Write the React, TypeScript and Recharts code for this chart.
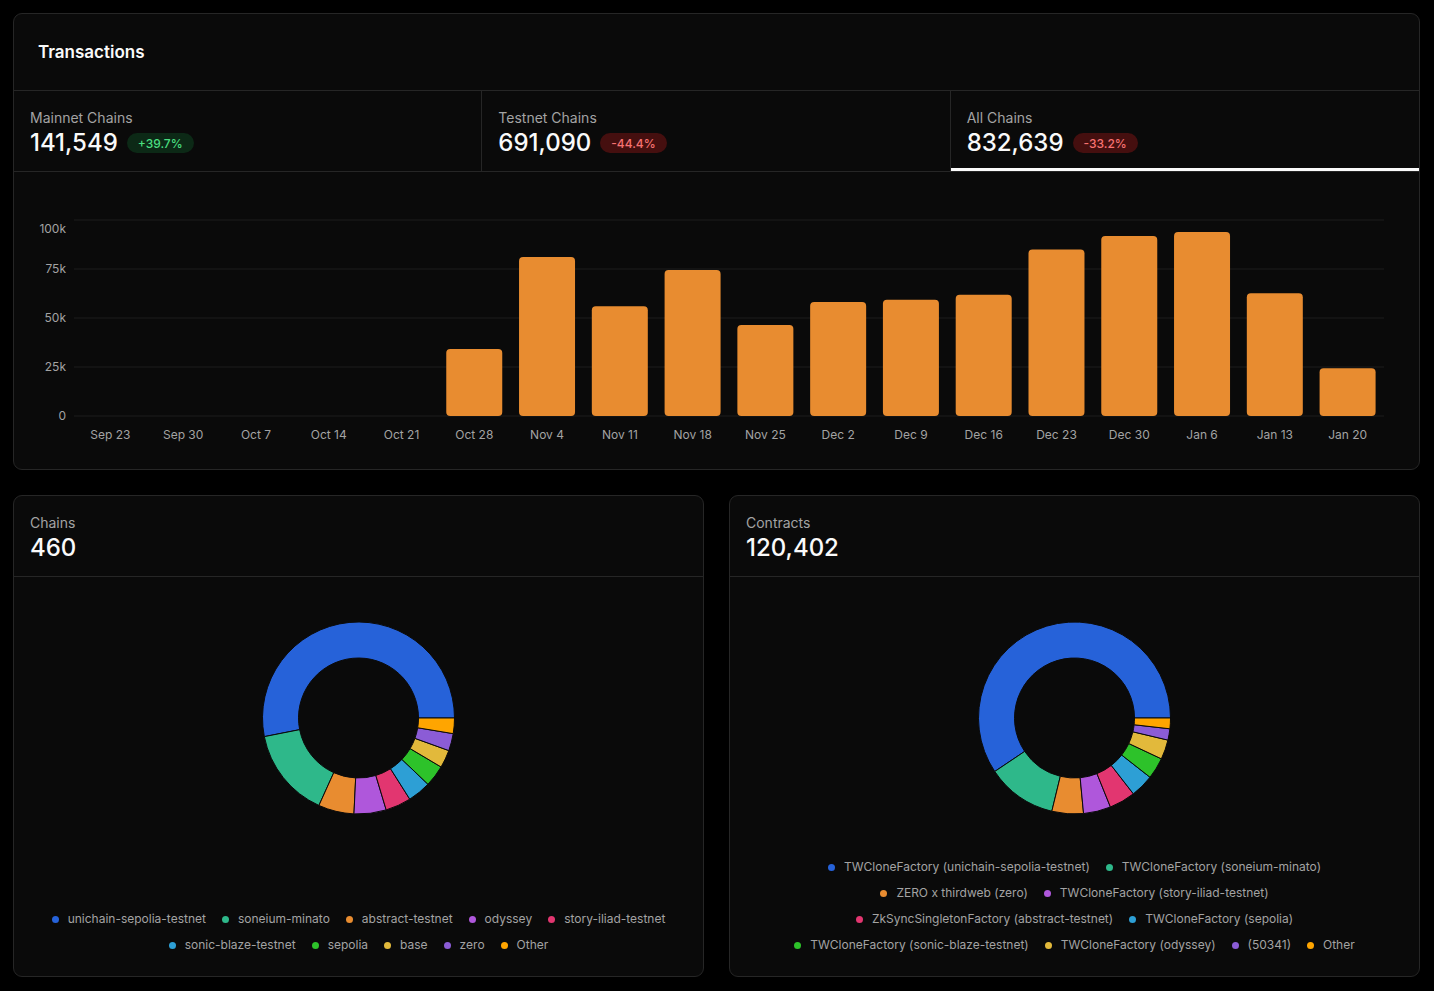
import React from "react";
import { BarChart, Bar, XAxis, YAxis, CartesianGrid, PieChart, Pie, Cell, Legend } from "recharts";

const weeks = ["Sep 23", "Sep 30", "Oct 7", "Oct 14", "Oct 21", "Oct 28", "Nov 4", "Nov 11", "Nov 18", "Nov 25", "Dec 2", "Dec 9", "Dec 16", "Dec 23", "Dec 30", "Jan 6", "Jan 13", "Jan 20"];
const weeklyTx = [0, 0, 0, 0, 0, 34200, 81100, 56000, 74500, 46400, 58200, 59300, 61900, 84900, 91800, 93900, 62600, 24300];
const yTicks = [0, 25000, 50000, 75000, 100000];

const statLabels = ["Mainnet Chains", "Testnet Chains", "All Chains"];
const statValues = ["141,549", "691,090", "832,639"];
const statChanges = ["+39.7%", "-44.4%", "-33.2%"];

const chainNames = ["unichain-sepolia-testnet", "soneium-minato", "abstract-testnet", "odyssey", "story-iliad-testnet", "sonic-blaze-testnet", "sepolia", "base", "zero", "Other"];
const chainValues = [441300, 125700, 49950, 44960, 35800, 32470, 29970, 24980, 24150, 21650];

const contractNames = [
  "TWCloneFactory (unichain-sepolia-testnet)",
  "TWCloneFactory (soneium-minato)",
  "ZERO x thirdweb (zero)",
  "TWCloneFactory (story-iliad-testnet)",
  "ZkSyncSingletonFactory (abstract-testnet)",
  "TWCloneFactory (sepolia)",
  "TWCloneFactory (sonic-blaze-testnet)",
  "TWCloneFactory (odyssey)",
  "(50341)",
  "Other",
];
const contractValues = [71520, 14210, 6380, 5540, 5300, 4700, 4330, 3970, 2290, 2160];

const sliceColors = ["#2662d9", "#2eb88a", "#e88c30", "#af57db", "#e23670", "#2d9fd5", "#2dc22a", "#e2b93b", "#8b5cd6", "#ffa500"];

const BG = "#0a0a0a";
const BORDER = "#262626";
const MUTED = "#a3a3a3";
const FONT = "Inter, 'Noto Sans', sans-serif";

const barData = weeks.map((w, i) => ({ week: w, tx: weeklyTx[i] }));
const chainData = chainNames.map((n, i) => ({ name: n, value: chainValues[i] }));
const contractData = contractNames.map((n, i) => ({ name: n, value: contractValues[i] }));

const fmtK = (v: number) => (v === 0 ? "0" : `${v / 1000}k`);

const YTick = (props: any) => {
  const { x, y, payload } = props;
  const shift = payload.value === 100000 ? 9 : 0;
  return (
    <text x={x} y={y + shift} dy="0.355em" textAnchor="end" fill={MUTED} fontSize={12} fontFamily={FONT}>
      {fmtK(payload.value)}
    </text>
  );
};

const Badge = ({ text }: { text: string }) => {
  const pos = text.startsWith("+");
  return (
    <span
      style={{
        display: "inline-flex",
        alignItems: "center",
        height: 20,
        padding: "0 11px",
        borderRadius: 999,
        fontSize: 12,
        fontWeight: 500,
        marginLeft: 9,
        background: pos ? "#0c2916" : "#450f0f",
        color: pos ? "#4ade80" : "#f87171",
      }}
    >
      {text}
    </span>
  );
};

const makeLegend = (names: string[]) => () => (
  <div
    style={{
      display: "flex",
      flexWrap: "wrap",
      justifyContent: "center",
      columnGap: 16,
      rowGap: 8,
      padding: "0 24px",
      boxSizing: "border-box",
      width: "100%",
      fontFamily: FONT,
    }}
  >
    {names.map((n, i) => (
      <div key={n} style={{ display: "flex", alignItems: "center", gap: 9, fontSize: 12, lineHeight: "18px", color: MUTED }}>
        <span style={{ width: 7, height: 7, borderRadius: "50%", background: sliceColors[i], display: "inline-block" }} />
        {n}
      </div>
    ))}
  </div>
);

const cardStyle: React.CSSProperties = {
  background: BG,
  border: `1px solid ${BORDER}`,
  borderRadius: 9,
  boxSizing: "border-box",
  overflow: "hidden",
};

const DonutCard = ({ title, value, data, names }: { title: string; value: string; data: any[]; names: string[] }) => (
  <div style={{ ...cardStyle, width: 691, height: 482 }}>
    <div style={{ padding: "17px 16px 13px", borderBottom: `1px solid ${BORDER}` }}>
      <div style={{ fontSize: 14, lineHeight: "20px", color: MUTED }}>{title}</div>
      <div style={{ fontSize: 24, lineHeight: "30px", fontWeight: 500, color: "#fafafa" }}>{value}</div>
    </div>
    <PieChart width={689} height={399} margin={{ top: 0, right: 0, bottom: 0, left: 0 }}>
      <Pie
        data={data}
        dataKey="value"
        nameKey="name"
        cx="50%"
        cy={141}
        innerRadius={60}
        outerRadius={96}
        startAngle={0}
        endAngle={360}
        stroke={BG}
        strokeWidth={1}
        isAnimationActive={false}
      >
        {data.map((d, i) => (
          <Cell key={d.name} fill={sliceColors[i]} />
        ))}
      </Pie>
      <Legend verticalAlign="bottom" content={makeLegend(names)} wrapperStyle={{ bottom: 22, left: 0, width: 689 }} />
    </PieChart>
  </div>
);

export default function App() {
  return (
    <div style={{ fontFamily: FONT, background: "#000", width: 1434, height: 991, padding: "13px 0 0 13px", boxSizing: "border-box" }}>
      <style>{`body{margin:0;background:#000;}`}</style>
      <div style={{ ...cardStyle, width: 1407, height: 457 }}>
        <div style={{ padding: "26px 24px 0", borderBottom: `1px solid ${BORDER}`, height: 77, boxSizing: "border-box" }}>
          <div style={{ fontSize: 17, lineHeight: "24px", fontWeight: 600, color: "#fafafa" }}>Transactions</div>
        </div>
        <div style={{ display: "grid", gridTemplateColumns: "1fr 1fr 1fr", borderBottom: `1px solid ${BORDER}` }}>
          {statLabels.map((l, i) => (
            <div
              key={l}
              style={{
                position: "relative",
                padding: "17px 16px 13px",
                borderRight: i < 2 ? `1px solid ${BORDER}` : "none",
              }}
            >
              <div style={{ fontSize: 14, lineHeight: "20px", color: MUTED }}>{l}</div>
              <div style={{ display: "flex", alignItems: "center", height: 30 }}>
                <span style={{ fontSize: 24, lineHeight: "30px", fontWeight: 500, color: "#fafafa" }}>{statValues[i]}</span>
                <Badge text={statChanges[i]} />
              </div>
              {i === 2 && <div style={{ position: "absolute", left: 0, right: 0, bottom: 0, height: 3, background: "#fafafa" }} />}
            </div>
          ))}
        </div>
        <BarChart width={1405} height={297} data={barData} margin={{ top: 48, right: 35, bottom: 0, left: 0 }} barCategoryGap="11.5%">
          <CartesianGrid vertical={false} stroke="#1c1c1c" />
          <XAxis
            dataKey="week"
            axisLine={false}
            tickLine={false}
            height={53}
            tickMargin={8}
            tick={{ fill: MUTED, fontSize: 12, fontFamily: FONT }}
            interval={0}
          />
          <YAxis
            domain={[0, 100000]}
            ticks={yTicks}
            axisLine={false}
            tickLine={false}
            width={60}
            tick={<YTick />}
            interval={0}
          />
          <Bar dataKey="tx" fill="#e88c30" radius={4} isAnimationActive={false} />
        </BarChart>
      </div>
      <div style={{ display: "flex", gap: 25, marginTop: 25 }}>
        <DonutCard title="Chains" value="460" data={chainData} names={chainNames} />
        <DonutCard title="Contracts" value="120,402" data={contractData} names={contractNames} />
      </div>
    </div>
  );
}
